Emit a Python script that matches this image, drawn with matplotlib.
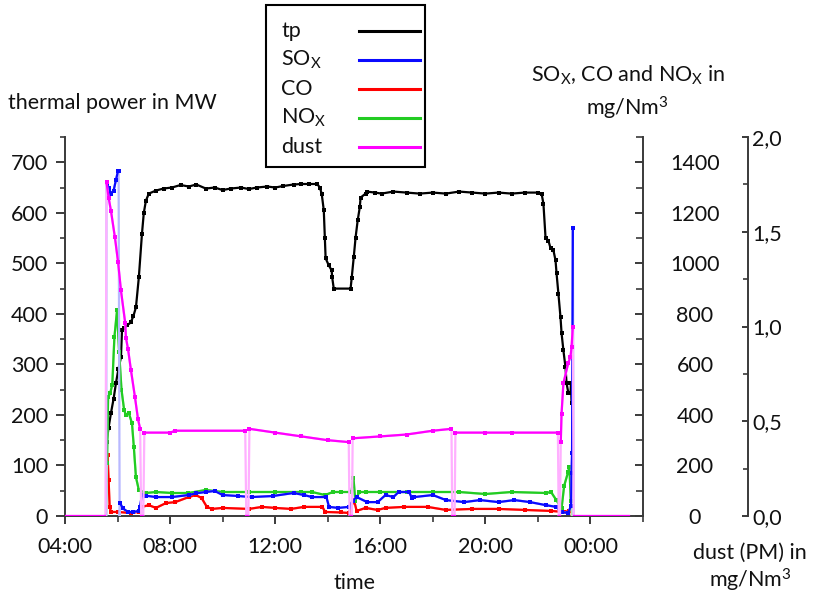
import numpy as np
import matplotlib
matplotlib.use("Agg")
import matplotlib.pyplot as plt
from matplotlib.patches import Rectangle
from matplotlib.lines import Line2D
from matplotlib.ticker import FixedLocator, FixedFormatter, MultipleLocator

plt.rcParams['font.family'] = ['Lato', 'DejaVu Sans']
plt.rcParams['mathtext.fontset'] = 'custom'
plt.rcParams['mathtext.rm'] = 'Lato'
plt.rcParams['mathtext.it'] = 'Lato'

FS = 15.5

# ---- data (time in decimal hours, 24+ = next day) ----
tp_time = [5.58, 5.66, 5.75, 5.85, 5.94, 6.03, 6.13, 6.17, 6.25, 6.36, 6.50, 6.60,
           6.70, 6.81, 6.93, 7.00, 7.08, 7.19, 7.46, 7.75, 8.07, 8.40, 8.71, 9.00,
           9.36, 9.70, 10.0, 10.3, 10.7, 11.0, 11.3, 11.7, 12.0, 12.3, 12.7, 13.0,
           13.3, 13.6, 13.70, 13.77, 13.85, 13.89, 13.92, 14.04, 14.15, 14.17, 14.23,
           14.87, 14.91, 14.99, 15.06, 15.14, 15.22, 15.25, 15.44, 15.48, 15.8, 16.05,
           16.5, 17.0, 17.5, 18.0, 18.5, 19.0, 19.5, 20.0, 20.5, 21.0, 21.5, 22.02,
           22.14, 22.21, 22.29, 22.40, 22.48, 22.59, 22.67, 22.71, 22.78, 22.86,
           22.90, 22.97, 23.05, 23.09, 23.16, 23.24, 23.26, 23.28]
tp_mw = [146, 175, 204, 232, 263, 290, 314, 368, 372, 377, 383, 395,
         413, 472, 559, 600, 624, 638, 644, 648, 650, 655, 652, 656,
         648, 650, 645, 648, 650, 647, 650, 652, 650, 653, 656, 657,
         657, 657, 650, 638, 605, 551, 510, 496, 486, 472, 450,
         450, 470, 512, 551, 585, 611, 630, 638, 642, 640, 638,
         642, 640, 638, 640, 638, 642, 640, 638, 640, 638, 640, 640,
         638, 618, 551, 545, 530, 526, 506, 480, 440, 393,
         362, 328, 294, 263, 243, 243, 263, 223]

sox_time = [5.57, 5.58, 5.66, 5.75, 5.85, 5.94, 6.02, 6.04, 6.08, 6.10, 6.20, 6.4,
            6.6, 6.8, 6.85, 6.93, 7.1, 7.46, 8.07, 8.71, 9.0, 9.36, 9.7, 10.0, 10.6,
            11.1, 11.9, 12.7, 13.1, 13.4, 13.95, 14.05, 14.4, 14.8, 14.95, 15.1, 15.5,
            15.9, 16.2, 16.5, 16.7, 17.1, 17.2, 17.3, 18.0, 18.5, 19.2, 19.8, 20.5,
            21.1, 21.7, 22.3, 22.7, 22.9, 23.15, 23.26, 23.28, 23.30, 23.33, 23.36]
sox_mg = [0, 1319, 1300, 1276, 1288, 1330, 1367, 1367, 0, 51, 30, 16,
          16, 20, 35, 83, 80, 75, 75, 83, 90, 95, 99, 83, 79,
          75, 79, 91, 83, 75, 75, 36, 32, 36, 60, 75, 55,
          55, 83, 75, 95, 95, 71, 75, 83, 63, 55, 63, 55,
          63, 55, 43, 36, 16, 12, 40, 170, 250, 1138, 0]

co_time = [5.56, 5.58, 5.62, 5.66, 5.70, 5.75, 6.0, 6.5, 6.8, 6.93, 7.19, 7.46,
           7.84, 8.2, 8.71, 8.98, 9.2, 9.4, 9.6, 10.0, 11.0, 11.5, 12.0, 12.6,
           13.1, 13.8, 13.9, 14.5, 14.8, 15.0, 15.1, 15.44, 15.9, 16.2, 16.9, 17.8,
           18.5, 19.5, 20.5, 21.5, 22.5, 23.0, 23.2, 23.3]
co_mg = [0, 180, 241, 142, 36, 16, 16, 12, 16, 36, 43, 32,
         51, 55, 75, 83, 71, 36, 28, 32, 28, 36, 32, 28,
         36, 36, 16, 14, 12, 63, 20, 32, 24, 32, 36, 36,
         24, 28, 28, 24, 20, 16, 20, 0]

nox_time = [5.57, 5.60, 5.64, 5.72, 5.80, 5.88, 5.98, 6.06, 6.15, 6.25, 6.32, 6.43,
            6.55, 6.62, 6.70, 6.81, 7.08, 7.46, 8.07, 8.7, 9.36, 10.0, 11.0, 12.0,
            13.0, 13.4, 13.9, 14.2, 14.5, 14.9, 14.98, 15.05, 15.2, 15.44, 16.0, 17.0,
            18.0, 19.0, 20.0, 21.0, 22.3, 22.5, 22.7, 22.9, 23.0, 23.15, 23.2, 23.25,
            23.3]
nox_mg = [0, 209, 470, 486, 520, 707, 814, 650, 500, 420, 399, 407,
          367, 273, 154, 103, 91, 95, 91, 91, 103, 95, 95, 95,
          95, 95, 83, 95, 95, 95, 150, 60, 95, 95, 95, 95,
          95, 95, 87, 95, 91, 95, 63, 30, 120, 174, 194, 60,
          0]

dust_time = [4.0, 5.54, 5.58, 5.66, 5.75, 5.90, 6.02, 6.13, 6.29, 6.32, 6.40, 6.51,
             6.66, 6.78, 6.86, 6.90, 6.98, 7.02, 8.0, 8.2, 10.86, 10.90, 10.98, 11.02,
             12.0, 13.0, 14.0, 14.80, 14.83, 14.92, 14.95, 16.0, 17.0, 18.0, 18.71,
             18.74, 18.83, 18.86, 20.0, 21.0, 22.76, 22.79, 22.84, 22.87, 22.90, 22.97,
             23.16, 23.24, 23.28, 23.33, 23.36, 25.45]
dust_mg = [0, 0, 1.76, 1.68, 1.61, 1.47, 1.34, 1.19, 1.02, 0.94, 0.88, 0.77,
           0.63, 0.51, 0.46, 0, 0, 0.44, 0.44, 0.45, 0.45, 0, 0, 0.46,
           0.44, 0.42, 0.40, 0.39, 0, 0, 0.41, 0.42, 0.43, 0.45, 0.46,
           0, 0, 0.44, 0.44, 0.44, 0.44, 0, 0, 0.39, 0.54, 0.70,
           0.81, 0.84, 0.89, 1.0, 0, 0]

hour_ticks = [4, 8, 12, 16, 20, 24]
hour_labels = ['04:00', '08:00', '12:00', '16:00', '20:00', '00:00']
mw_ticks = [0, 100, 200, 300, 400, 500, 600, 700]
gas_ticks = [0, 200, 400, 600, 800, 1000, 1200, 1400]
dust_ticks = [0.0, 0.5, 1.0, 1.5, 2.0]
dust_labels = ['0,0', '0,5', '1,0', '1,5', '2,0']

W, H = 815, 598
fig = plt.figure(figsize=(W / 100, H / 100), dpi=100)

x0, x1, yb, yt = 65, 643, 516, 137
ax = fig.add_axes([x0 / W, 1 - yb / H, (x1 - x0) / W, (yb - yt) / H])
ax2 = ax.twinx()
ax3 = ax.twinx()

SPC = '#3a3a3a'
TXT = '#111111'
px = 0.72  # points per pixel at 100 dpi


def trace(a, t, v, color, pale, z):
    t = np.asarray(t, float)
    v = np.asarray(v, float)
    a.plot(t, v, color=pale, lw=1.6, zorder=z)
    a.plot(t, np.where(v > 0, v, np.nan), color=color, lw=1.6, marker='s',
           ms=2.2, mew=0, zorder=z + 0.2)
    a.plot(t, np.where(v == 0, v, np.nan), color=color, lw=1.6, zorder=z + 0.2)


ax.plot(tp_time, tp_mw, color='black', lw=1.6, marker='s', ms=2.4, mew=0, zorder=3)
trace(ax2, co_time, co_mg, '#ff0000', '#ffb0b0', 2)
trace(ax2, nox_time, nox_mg, '#22cc22', '#b0f0b0', 2.5)
trace(ax2, sox_time, sox_mg, '#0a0aff', '#b8b8ff', 3)
trace(ax3, dust_time, dust_mg, '#ff00ff', '#ffb0ff', 3)

# primary axis: thermal power
ax.set_xlim(4, 26)
ax.set_ylim(0, 750)
for s in ['top', 'right']:
    ax.spines[s].set_visible(False)
for s in ['left', 'bottom']:
    ax.spines[s].set_color(SPC)
    ax.spines[s].set_linewidth(1.4)
ax.xaxis.set_major_locator(FixedLocator(hour_ticks))
ax.xaxis.set_major_formatter(FixedFormatter(hour_labels))
ax.xaxis.set_minor_locator(FixedLocator([6, 10, 14, 18, 22, 26]))
ax.yaxis.set_major_locator(FixedLocator(mw_ticks))
ax.yaxis.set_minor_locator(MultipleLocator(50))
ax.tick_params(axis='x', which='major', direction='out', length=8 * px, width=1.4,
               color=SPC, labelsize=FS, labelcolor=TXT, pad=13 * px)
ax.tick_params(axis='x', which='minor', direction='out', length=6 * px, width=1.2, color=SPC)
ax.tick_params(axis='y', which='major', direction='out', length=9 * px, width=1.4,
               color=SPC, labelsize=FS, labelcolor=TXT, pad=8 * px)
ax.tick_params(axis='y', which='minor', direction='out', length=5 * px, width=1.2, color=SPC)

# second axis: gaseous emissions
ax2.set_ylim(0, 1500)
for s in ['top', 'left', 'bottom']:
    ax2.spines[s].set_visible(False)
ax2.spines['right'].set_color(SPC)
ax2.spines['right'].set_linewidth(1.4)
ax2.yaxis.set_major_locator(FixedLocator(gas_ticks))
ax2.yaxis.set_minor_locator(MultipleLocator(100))
ax2.tick_params(axis='y', which='major', direction='in', length=8 * px, width=1.4,
                color=SPC, labelsize=FS, labelcolor=TXT, pad=52 * px)
ax2.tick_params(axis='y', which='minor', direction='in', length=7 * px, width=1.2, color=SPC)
for lb in ax2.get_yticklabels():
    lb.set_horizontalalignment('center')

# third axis: dust
ax3.set_ylim(0, 2.0)
for s in ['top', 'left', 'bottom']:
    ax3.spines[s].set_visible(False)
ax3.spines['right'].set_position(('axes', (748 - x0) / (x1 - x0)))
ax3.spines['right'].set_color(SPC)
ax3.spines['right'].set_linewidth(1.4)
ax3.yaxis.set_major_locator(FixedLocator(dust_ticks))
ax3.yaxis.set_major_formatter(FixedFormatter(dust_labels))
ax3.yaxis.set_minor_locator(MultipleLocator(0.25))
ax3.tick_params(axis='y', which='major', direction='in', length=6 * px, width=1.4,
                color=SPC, labelsize=FS, labelcolor=TXT, pad=4 * px)
ax3.tick_params(axis='y', which='minor', direction='in', length=5 * px, width=1.2, color=SPC)


def ftext(x, y, s, **kw):
    fig.text(x / W, 1 - y / H, s, fontsize=FS, color=TXT, **kw)


sub = r'$_\mathregular{X}$'
ftext(8, 103, 'thermal power in MW', ha='left', va='center')
ftext(628, 75, 'SO' + sub + ', CO and NO' + sub + ' in', ha='center', va='center')
ftext(627, 108, r'mg/Nm$^\mathregular{3}$', ha='center', va='center')
ftext(750, 553, 'dust (PM) in', ha='center', va='center')
ftext(750, 580, r'mg/Nm$^\mathregular{3}$', ha='center', va='center')
ftext(355, 583, 'time', ha='center', va='center')

# legend box
fig.patches.append(Rectangle((266 / W, 1 - 167 / H), (425 - 266) / W, (167 - 5) / H,
                             transform=fig.transFigure, facecolor='white',
                             edgecolor='black', lw=1.5, zorder=10))
legend_items = [('tp', 'black'), ('SO' + sub, '#0a0aff'), ('CO', '#ff0000'),
                ('NO' + sub, '#22cc22'), ('dust', '#ff00ff')]
for i, (name, col) in enumerate(legend_items):
    yy = 31 + i * 29
    fig.text(281 / W, 1 - yy / H, name, fontsize=FS, color=TXT, ha='left',
             va='center', zorder=11)
    fig.lines.append(Line2D([359 / W, 420 / W], [1 - yy / H, 1 - yy / H],
                            transform=fig.transFigure, color=col, lw=2.2, zorder=11))

fig.savefig('out.png', dpi=100)
